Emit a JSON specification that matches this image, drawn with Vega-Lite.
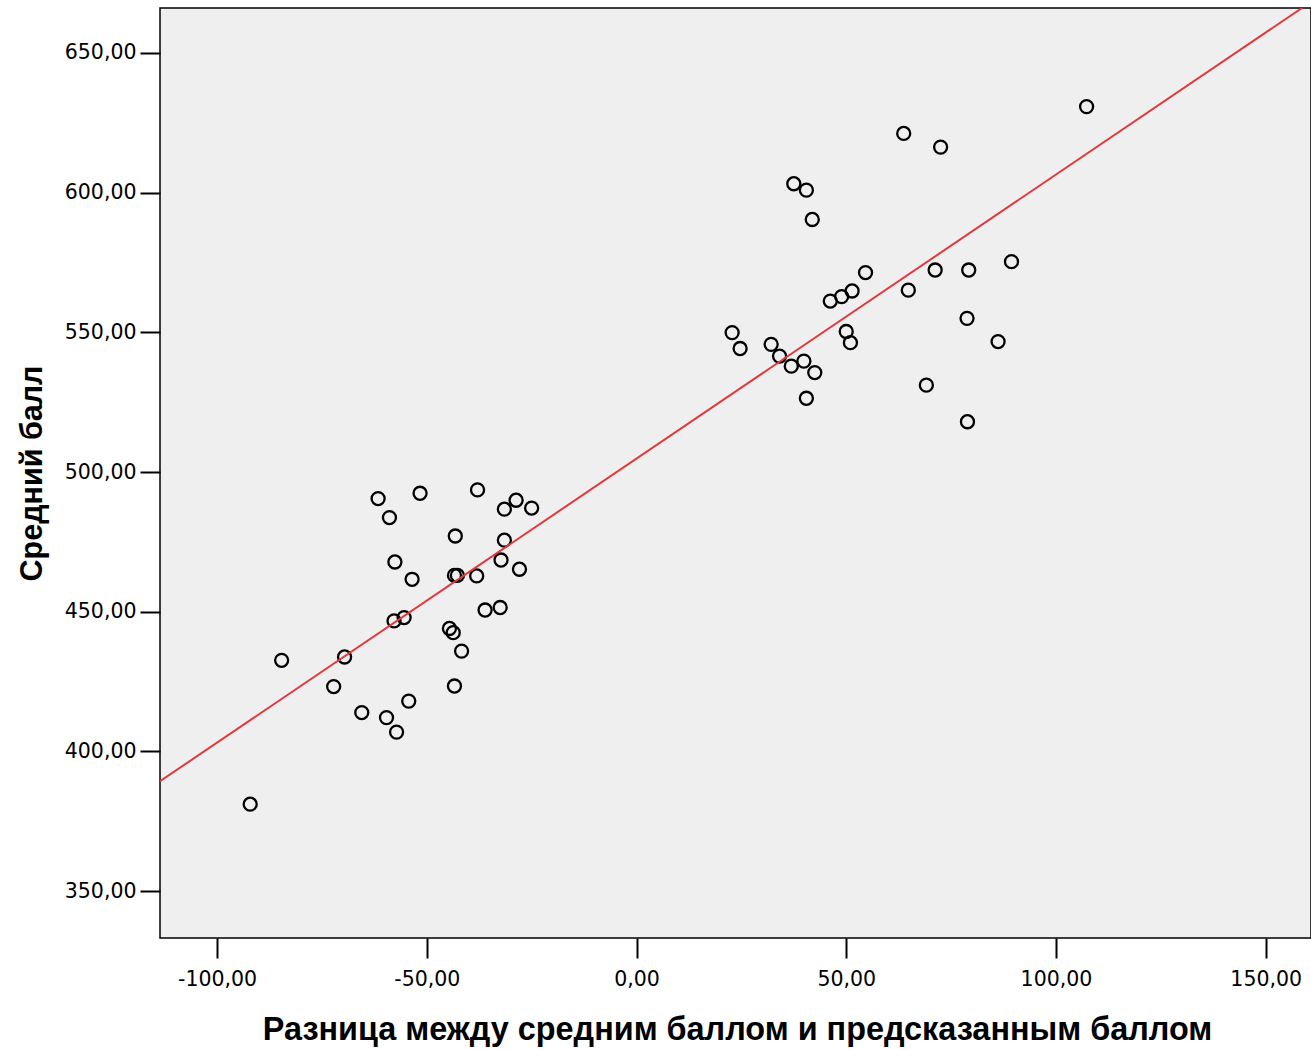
{
  "$schema": "https://vega.github.io/schema/vega-lite/v6.json",
  "autosize": "none",
  "width": 1151,
  "height": 930,
  "padding": {"left": 160, "top": 8, "right": 0, "bottom": 112},
  "background": "white",
  "config": {
    "view": {"stroke": "black", "strokeWidth": 1.5, "fill": "#efefef"},
    "axis": {
      "grid": false,
      "domain": false,
      "tickColor": "black",
      "tickWidth": 2,
      "tickSize": 20,
      "labelFont": "DejaVu Sans",
      "labelFontSize": 20.5,
      "labelColor": "black",
      "titleFont": "Liberation Sans",
      "titleFontWeight": "bold",
      "titleFontSize": 30.5,
      "titleColor": "black"
    }
  },
  "data": {
    "values": [
      {"x": -61.6, "y": 490.5}, {"x": -51.6, "y": 492.4}, {"x": -37.9, "y": 493.6},
      {"x": -28.7, "y": 489.9}, {"x": -31.5, "y": 486.7}, {"x": -25.0, "y": 487.1},
      {"x": -58.9, "y": 483.7}, {"x": -43.2, "y": 477.1}, {"x": -31.5, "y": 475.6},
      {"x": -57.6, "y": 467.8}, {"x": -32.3, "y": 468.5}, {"x": -27.9, "y": 465.2},
      {"x": -53.5, "y": 461.6}, {"x": -43.4, "y": 463.0}, {"x": -42.7, "y": 463.0},
      {"x": -38.1, "y": 462.8}, {"x": -57.8, "y": 446.7}, {"x": -55.4, "y": 447.9},
      {"x": -36.1, "y": 450.6}, {"x": -32.5, "y": 451.5}, {"x": -44.6, "y": 444.0},
      {"x": -43.7, "y": 442.5}, {"x": -41.7, "y": 435.9}, {"x": -84.6, "y": 432.6},
      {"x": -69.6, "y": 433.8}, {"x": -72.2, "y": 423.2}, {"x": -43.4, "y": 423.4},
      {"x": -54.3, "y": 418.0}, {"x": -65.5, "y": 413.9}, {"x": -59.6, "y": 412.1},
      {"x": -57.2, "y": 406.9}, {"x": -92.1, "y": 381.1},
      {"x": 107.3, "y": 630.8}, {"x": 63.7, "y": 621.2}, {"x": 72.5, "y": 616.3},
      {"x": 37.5, "y": 603.2}, {"x": 40.5, "y": 600.9}, {"x": 41.9, "y": 590.4},
      {"x": 54.6, "y": 571.4}, {"x": 89.4, "y": 575.3}, {"x": 71.2, "y": 572.3},
      {"x": 79.2, "y": 572.3}, {"x": 46.2, "y": 561.2}, {"x": 48.9, "y": 562.8},
      {"x": 51.4, "y": 564.8}, {"x": 64.8, "y": 565.1}, {"x": 78.8, "y": 555.0},
      {"x": 22.8, "y": 549.9}, {"x": 24.7, "y": 544.2}, {"x": 32.1, "y": 545.7},
      {"x": 34.1, "y": 541.5}, {"x": 36.9, "y": 537.9}, {"x": 39.9, "y": 539.7},
      {"x": 42.5, "y": 535.6}, {"x": 50.0, "y": 550.3}, {"x": 51.0, "y": 546.3},
      {"x": 86.2, "y": 546.7}, {"x": 69.1, "y": 531.1}, {"x": 40.5, "y": 526.4},
      {"x": 78.9, "y": 518.0}
    ]
  },
  "encoding": {
    "x": {
      "field": "x", "type": "quantitative",
      "scale": {"domain": [-113.6, 160.8], "nice": false, "zero": false},
      "axis": {
        "values": [-100, -50, 0, 50, 100, 150],
        "labelExpr": "(datum.value < 0 ? '-' : '') + replace(format(abs(datum.value), '.2f'), '.', ',')",
        "labelPadding": 11,
        "title": "Разница между средним баллом и предсказанным баллом",
        "titleFontSize": 32.4,
        "titleX": 577,
        "titleY": 101,
        "titleBaseline": "alphabetic",
        "titleAlign": "center"
      }
    },
    "y": {
      "field": "y", "type": "quantitative",
      "scale": {"domain": [333.2, 666.1], "nice": false, "zero": false},
      "axis": {
        "values": [350, 400, 450, 500, 550, 600, 650],
        "labelExpr": "replace(format(datum.value, '.2f'), '.', ',')",
        "labelPadding": 4,
        "title": "Средний балл",
        "titleX": -128,
        "titleY": 465,
        "titleAngle": -90,
        "titleAlign": "center",
        "titleBaseline": "middle"
      }
    }
  },
  "layer": [
    {
      "mark": {"type": "point", "shape": "circle", "filled": false, "stroke": "black", "strokeWidth": 2.3, "size": 170, "opacity": 1}
    },
    {
      "transform": [{"regression": "y", "on": "x", "extent": [-113.6, 160.8]}],
      "mark": {"type": "line", "color": "#e0393e", "strokeWidth": 2, "clip": true}
    }
  ]
}
